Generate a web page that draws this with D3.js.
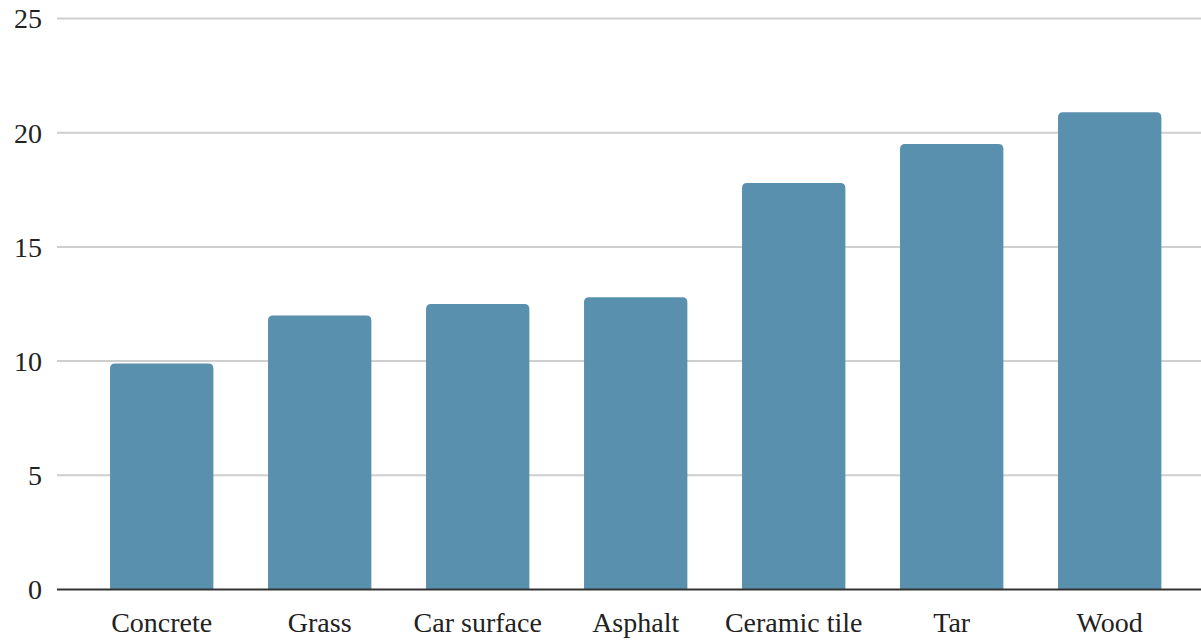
<!DOCTYPE html>
<html>
<head>
<meta charset="utf-8">
<script src="https://cdn.jsdelivr.net/npm/d3@7"></script>
<style>
  html, body { margin: 0; padding: 0; background: #fff; }
  svg { display: block; }
</style>
</head>
<body>
<svg id="chart" width="1201" height="640"></svg>
<script>
const categories = ["Concrete", "Grass", "Car surface", "Asphalt", "Ceramic tile", "Tar", "Wood"];
const values = [9.9, 12.0, 12.5, 12.8, 17.8, 19.5, 20.9];
const yTicks = [0, 5, 10, 15, 20, 25];

const FONT = "'Liberation Serif', Tinos, 'Times New Roman', Times, 'DejaVu Serif', serif";

const svg = d3.select("#chart")
  .attr("font-family", FONT);
const gridLeft = 57, gridRight = 1201;

const x = d3.scaleBand()
  .domain(categories)
  .range([82.7, 1188.7])
  .paddingInner(0.346)
  .paddingOuter(0.173);

const y = d3.scaleLinear()
  .domain([0, 25])
  .range([589.5, 18.5]);

// horizontal gridlines
svg.append("g")
  .selectAll("line")
  .data(yTicks.filter(d => d > 0))
  .join("line")
  .attr("x1", gridLeft)
  .attr("x2", gridRight)
  .attr("y1", d => y(d))
  .attr("y2", d => y(d))
  .attr("stroke", "#cfcfcf")
  .attr("stroke-width", 2);

// y tick labels
svg.append("g")
  .selectAll("text")
  .data(yTicks)
  .join("text")
  .attr("x", 42)
  .attr("y", d => y(d))
  .attr("dy", "0.35em")
  .attr("text-anchor", "end")
  .attr("font-family", FONT)
  .attr("font-size", 28)
  .attr("fill", "#222")
  .text(d => d);

// bars with rounded top corners
const r = 5;
svg.append("g")
  .selectAll("path")
  .data(categories.map((c, i) => ({ c, v: values[i] })))
  .join("path")
  .attr("fill", "#5990ae")
  .attr("d", d => {
    const x0 = x(d.c), w = x.bandwidth();
    const y0 = y(d.v), yb = y(0);
    return `M${x0},${yb}V${y0 + r}Q${x0},${y0} ${x0 + r},${y0}H${x0 + w - r}Q${x0 + w},${y0} ${x0 + w},${y0 + r}V${yb}Z`;
  });

// baseline
svg.append("line")
  .attr("x1", gridLeft)
  .attr("x2", gridRight)
  .attr("y1", y(0))
  .attr("y2", y(0))
  .attr("stroke", "#333")
  .attr("stroke-width", 2);

// category labels
svg.append("g")
  .selectAll("text")
  .data(categories)
  .join("text")
  .attr("x", d => x(d) + x.bandwidth() / 2)
  .attr("y", 632)
  .attr("text-anchor", "middle")
  .attr("font-family", FONT)
  .attr("font-size", 28)
  .attr("fill", "#222")
  .text(d => d);
</script>
</body>
</html>
